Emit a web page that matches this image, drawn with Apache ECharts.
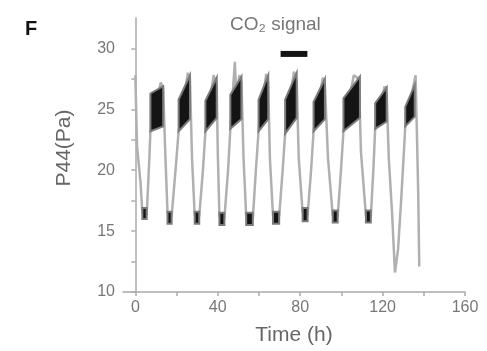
<!DOCTYPE html>
<html>
<head>
<meta charset="utf-8">
<script src="https://cdn.jsdelivr.net/npm/echarts@6/dist/echarts.min.js"></script>
<style>
html,body{margin:0;padding:0;background:#fff;}
#chart{width:487px;height:351px;}
</style>
</head>
<body>
<div id="chart"></div>
<script>
// Trace of P44 (Pa) over time (h): [time, value]
const traceTime = [0, 0.8, 2.5, 3.4, 5.5, 6.8, 7.3, 12.3, 13.5, 14.4, 15.6,
  17.6, 19.5, 21.0, 25.5, 26.5, 27.5, 28.8,
  31.0, 32.8, 34.0, 38.0, 39.5, 40.0, 40.8,
  43.2, 45.0, 46.1, 48.3, 49.0, 50.5, 51.5, 52.5, 53.8,
  57.0, 58.5, 59.8, 63.5, 64.5, 65.3, 66.8,
  69.8, 71.5, 72.7, 77.0, 78.3, 79.3, 81.2,
  83.6, 85.3, 86.5, 91.0, 92.0, 93.5, 95.8,
  98.2, 99.8, 101.0, 106.0, 108.5, 109.5, 111.9,
  114.3, 115.5, 116.4, 121.0, 122.0, 123.0, 124.6, 126.0,
  127.5, 129.0, 130.5, 131.0, 136.0, 136.8, 137.3, 137.8];
const traceValue = [27.8, 22.0, 19.0, 16.5, 16.3, 21.0, 23.2, 27.2, 26.8, 22.0, 16.5,
  16.2, 20.0, 23.2, 28.0, 27.5, 21.0, 16.3,
  16.2, 20.0, 23.2, 27.8, 27.0, 21.5, 16.2,
  16.0, 20.0, 23.4, 28.9, 26.0, 27.8, 27.2, 21.0, 16.2,
  16.0, 20.0, 23.2, 27.9, 27.2, 21.0, 16.3,
  16.2, 20.0, 23.0, 28.1, 27.4, 21.0, 16.5,
  16.3, 20.0, 23.2, 27.6, 27.0, 21.0, 16.3,
  16.2, 20.0, 23.2, 27.8, 27.5, 21.5, 16.3,
  16.2, 20.0, 23.4, 26.9, 26.2, 21.0, 16.5, 11.6,
  13.5, 17.5, 22.0, 23.6, 27.8, 22.0, 18.0, 12.1];

// Dense high-phase regions (many samples): start/end time, lower and upper envelope
const blobStart = [7.3, 21.0, 34.0, 46.1, 59.8, 72.7, 86.5, 101.0, 116.4, 131.0];
const blobEnd = [13.5, 26.5, 39.5, 51.5, 64.5, 78.3, 92.0, 109.0, 122.0, 135.6];
const blobLowStart = [23.2, 23.2, 23.2, 23.4, 23.2, 23.0, 23.2, 23.2, 23.4, 23.6];
const blobLowEnd = [23.6, 24.2, 24.3, 24.2, 24.2, 24.3, 24.2, 24.3, 24.0, 24.4];
const blobHighStart = [26.3, 25.8, 25.7, 26.2, 25.8, 25.8, 25.6, 25.9, 25.5, 25.2];
const blobHighEnd = [26.9, 27.8, 27.6, 27.7, 27.8, 28.0, 27.5, 27.7, 26.8, 27.0];

// Dense trough regions
const troughStart = [3.4, 15.6, 28.8, 40.8, 53.8, 66.8, 81.2, 95.8, 111.9];
const troughEnd = [5.5, 17.6, 31.0, 43.2, 57.0, 69.8, 83.6, 98.2, 114.3];
const troughLow = [16.0, 15.6, 15.6, 15.5, 15.5, 15.6, 15.8, 15.7, 15.7];
const troughHigh = [16.9, 16.6, 16.6, 16.5, 16.5, 16.6, 16.9, 16.7, 16.7];

// CO2 signal period
const co2Start = 70.5, co2End = 83.5, co2Level = 29.55;

const xTicks = [0, 20, 40, 60, 80, 100, 120, 140, 160];
const xLabels = [0, 40, 80, 120, 160];
const yTicks = [10, 12.5, 15, 17.5, 20, 22.5, 25, 27.5, 30];
const yLabels = [10, 15, 20, 25, 30];

const trace = traceTime.map((t, i) => [t, traceValue[i]]);
const blobs = blobStart.map((t, i) => [t, blobEnd[i], blobLowStart[i], blobLowEnd[i], blobHighStart[i], blobHighEnd[i]]);
const troughs = troughStart.map((t, i) => [t, troughEnd[i], troughLow[i], troughLow[i], troughHigh[i], troughHigh[i]]);

function renderBand(params, api) {
  const pts = [
    api.coord([api.value(0), api.value(2)]),
    api.coord([api.value(1), api.value(3)]),
    api.coord([api.value(1), api.value(5)]),
    api.coord([api.value(0), api.value(4)])
  ];
  return {type: 'polygon', shape: {points: pts}, style: {fill: '#141414', stroke: '#7a7a7a', lineWidth: 2}};
}

const chart = echarts.init(document.getElementById('chart'), null, {renderer: 'canvas'});
const gray = '#aaaaaa';
chart.setOption({
  animation: false,
  backgroundColor: '#fff',
  grid: {left: 123, right: 22, top: 18, bottom: 59},
  xAxis: {
    type: 'value', min: -6, max: 160,
    name: 'Time (h)', nameLocation: 'middle', nameGap: 33,
    nameTextStyle: {fontFamily: 'Liberation Sans', fontSize: 21, color: '#666'},
    splitLine: {show: false},
    axisLine: {lineStyle: {color: gray, width: 1.5}},
    axisTick: {customValues: xTicks, length: 4, lineStyle: {color: gray, width: 1.5}},
    axisLabel: {customValues: xLabels, fontFamily: 'Liberation Sans', fontSize: 16, color: '#777', margin: 8}
  },
  yAxis: {
    type: 'value', min: 10, max: 32.5,
    name: 'P44(Pa)', nameLocation: 'middle', nameGap: 48, nameRotate: 90,
    nameTextStyle: {fontFamily: 'Liberation Sans', fontSize: 21, color: '#666', padding: [0, 0, 0, 14]},
    splitLine: {show: false},
    axisLine: {lineStyle: {color: gray, width: 1.5}},
    axisTick: {customValues: yTicks, length: 4, lineStyle: {color: gray, width: 1.5}},
    axisLabel: {customValues: yLabels, fontFamily: 'Liberation Sans', fontSize: 16, color: '#777', margin: 8}
  },
  graphic: [
    {type: 'text', left: 25, top: 19, style: {text: 'F', font: 'bold 20px "Liberation Sans"', fill: '#111'}},
    {type: 'text', left: 230, top: 15, style: {text: 'CO\u2082 signal', font: '19px "Liberation Sans"', fill: '#777'}}
  ],
  series: [
    {
      type: 'line', name: 'P44', data: trace, symbol: 'none', z: 2,
      lineStyle: {color: '#b0b0b0', width: 2.5}
    },
    {
      type: 'custom', name: 'dense high', data: blobs, renderItem: renderBand, z: 3,
      encode: {x: [0, 1], y: [2, 3, 4, 5]}
    },
    {
      type: 'custom', name: 'dense trough', data: troughs, renderItem: renderBand, z: 3,
      encode: {x: [0, 1], y: [2, 3, 4, 5]}
    },
    {
      type: 'line', name: 'CO2 signal', data: [[co2Start, co2Level], [co2End, co2Level]],
      symbol: 'none', z: 4, lineStyle: {color: '#141414', width: 6}
    }
  ]
});
</script>
</body>
</html>
